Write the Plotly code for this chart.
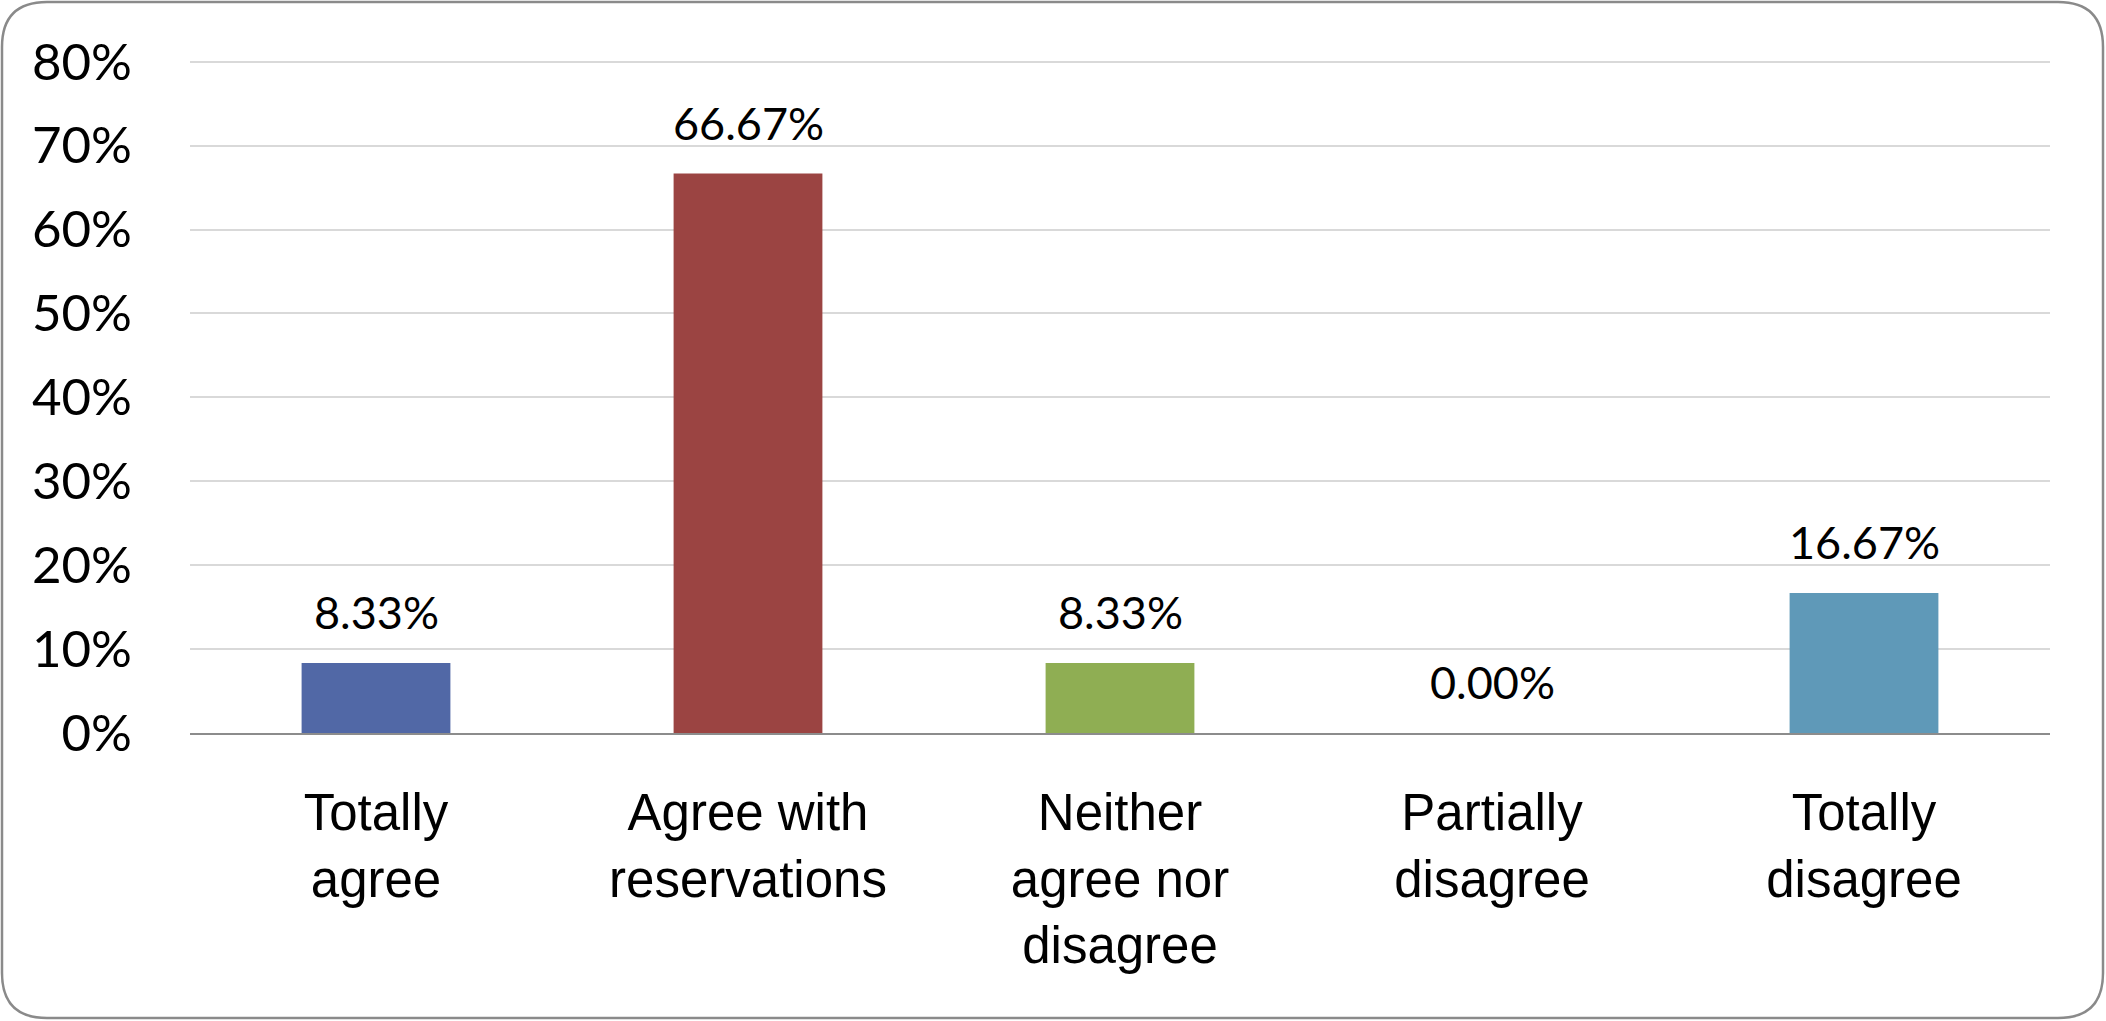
import plotly.graph_objects as go

categories = ["Totally<br>agree", "Agree with<br>reservations", "Neither<br>agree nor<br>disagree",
              "Partially<br>disagree", "Totally<br>disagree"]
values = [0.0833, 0.6667, 0.0833, 0.0, 0.1667]
labels = ["8.33%", "66.67%", "8.33%", "0.00%", "16.67%"]
colors = ["#5168a6", "#9b4442", "#8fae53", "#7f7f7f", "#5f99b8"]
y_ticks = [0, 0.1, 0.2, 0.3, 0.4, 0.5, 0.6, 0.7, 0.8]

W, H = 2106, 1021
L, R, T, B = 190, 2050, 60, 733

fig = go.Figure()
fig.add_trace(go.Bar(x=categories, y=values, marker=dict(color=colors, line=dict(width=0)),
                     hoverinfo="skip", showlegend=False))

for c, v, t in zip(categories, values, labels):
    fig.add_annotation(x=c, y=v, text=t, showarrow=False, yanchor="bottom",
                       yshift=22, font=dict(family="Lato", size=45, color="#000000"))

def px(x):
    return (x - L) / (R - L)

def py(y):
    return (B - y) / (B - T)

x0, x1, y0, y1, r = 2, 2103, 2, 1018, 45
path = (f"M {px(x0 + r)} {py(y0)} L {px(x1 - r)} {py(y0)} "
        f"Q {px(x1)} {py(y0)} {px(x1)} {py(y0 + r)} "
        f"L {px(x1)} {py(y1 - r)} Q {px(x1)} {py(y1)} {px(x1 - r)} {py(y1)} "
        f"L {px(x0 + r)} {py(y1)} Q {px(x0)} {py(y1)} {px(x0)} {py(y1 - r)} "
        f"L {px(x0)} {py(y0 + r)} Q {px(x0)} {py(y0)} {px(x0 + r)} {py(y0)} Z")
fig.add_shape(type="path", path=path, xref="paper", yref="paper",
              line=dict(color="#8a8a8a", width=2.5), layer="below")

fig.update_layout(
    width=W, height=H,
    margin=dict(l=L, r=W - R, t=T, b=H - B, pad=0),
    paper_bgcolor="white", plot_bgcolor="white",
    bargap=0.6,
    xaxis=dict(showgrid=False, showline=True, linecolor="#8c8c8c", linewidth=2,
               ticks="", tickfont=dict(family="Liberation Sans", size=51, color="#000000"),
               ticklabelstandoff=34, fixedrange=True),
    yaxis=dict(range=[0, 0.802], tickvals=y_ticks, tickformat=".0%",
               showgrid=True, gridcolor="#d9d9d9", gridwidth=2, zeroline=False,
               showline=False, ticks="",
               tickfont=dict(family="Lato", size=51, color="#000000"),
               ticklabelstandoff=57, fixedrange=True),
)

fig.write_html("out.html", config={"displayModeBar": False},
               post_script="document.body.style.margin='0';document.body.style.overflow='hidden';")
